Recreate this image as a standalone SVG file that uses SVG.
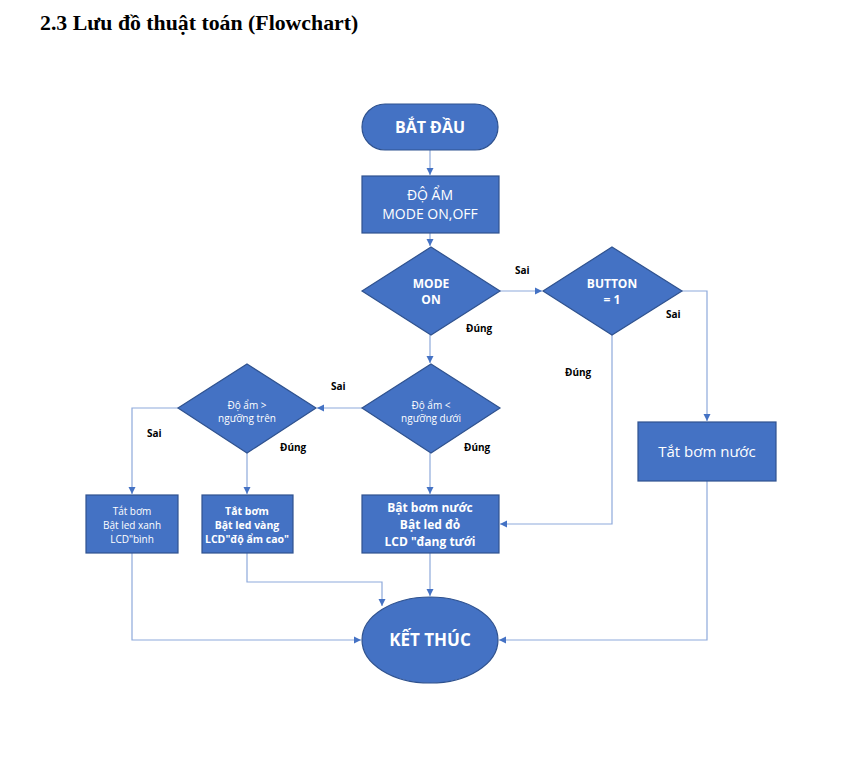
<svg xmlns="http://www.w3.org/2000/svg" width="850" height="766" viewBox="0 0 850 766">
<style>
.s{fill:#4472C4;stroke:#2F528F;stroke-width:1.2}
.t{font-family:"Open Sans","Liberation Sans",sans-serif;fill:#fff;text-anchor:middle}
.b{font-weight:bold}
.l{font-family:"Open Sans","Liberation Sans",sans-serif;font-weight:bold;font-size:10px;fill:#000}
.c{fill:none;stroke:#8EA9DB;stroke-width:1.2}
</style>
<defs>
<marker id="a" markerWidth="8" markerHeight="8" refX="7" refY="4" orient="auto" markerUnits="userSpaceOnUse">
<path d="M0,0.5 L7,4 L0,7.5 Z" fill="#4472C4"/>
</marker>
</defs>
<rect width="850" height="766" fill="#fff"/>
<text x="40" y="30" font-family="Liberation Serif,serif" font-weight="bold" font-size="21.8" fill="#000">2.3 Lưu đồ thuật toán (Flowchart)</text>
<g id="connectors">
<path class="c" d="M430,150 V175" marker-end="url(#a)"/>
<path class="c" d="M430,233 V246" marker-end="url(#a)"/>
<path class="c" d="M500,291 H542" marker-end="url(#a)"/>
<path class="c" d="M682,291 H707 V421" marker-end="url(#a)"/>
<path class="c" d="M612,335 V524 H500" marker-end="url(#a)"/>
<path class="c" d="M430,335 V363" marker-end="url(#a)"/>
<path class="c" d="M362,408 H317" marker-end="url(#a)"/>
<path class="c" d="M178,408 H132 V494" marker-end="url(#a)"/>
<path class="c" d="M247,453 V494" marker-end="url(#a)"/>
<path class="c" d="M430,453 V494" marker-end="url(#a)"/>
<path class="c" d="M132,553 V640 H361" marker-end="url(#a)"/>
<path class="c" d="M247,553 V582 H382 V606" marker-end="url(#a)"/>
<path class="c" d="M430,553 V596" marker-end="url(#a)"/>
<path class="c" d="M707,481 V640 H499" marker-end="url(#a)"/>
</g>
<g id="labels">
<text class="l" x="515" y="274">Sai</text>
<text class="l" x="666" y="318">Sai</text>
<text class="l" x="466" y="332">Đúng</text>
<text class="l" x="565" y="376">Đúng</text>
<text class="l" x="331" y="390">Sai</text>
<text class="l" x="147" y="437">Sai</text>
<text class="l" x="280" y="451">Đúng</text>
<text class="l" x="464" y="451">Đúng</text>
</g>
<g id="start">
<rect class="s" x="362" y="104" width="136" height="46" rx="23"/>
<text class="t b" x="430" y="133" font-size="16">BẮT ĐẦU</text>
</g>
<g id="input">
<rect class="s" x="362" y="176" width="137" height="57"/>
<text class="t" x="430" y="200" font-size="14">ĐỘ ẨM</text>
<text class="t" x="430" y="219" font-size="14">MODE ON,OFF</text>
</g>
<g id="mode">
<polygon class="s" points="431,247 500,291 431,335 362,291"/>
<text class="t b" x="431" y="288" font-size="12">MODE</text>
<text class="t b" x="431" y="304" font-size="12">ON</text>
</g>
<g id="button">
<polygon class="s" points="612,247 682,291 612,335 543,291"/>
<text class="t b" x="612" y="288" font-size="12">BUTTON</text>
<text class="t b" x="612" y="304" font-size="12">= 1</text>
</g>
<g id="low">
<polygon class="s" points="431,364 500,408 431,453 362,408"/>
<text class="t" x="431" y="409" font-size="10">Độ ẩm &lt;</text>
<text class="t" x="431" y="422" font-size="10">ngưỡng dưới</text>
</g>
<g id="high">
<polygon class="s" points="247,364 316,408 247,453 178,408"/>
<text class="t" x="247" y="409" font-size="10">Độ ẩm &gt;</text>
<text class="t" x="247" y="422" font-size="10">ngưỡng trên</text>
</g>
<g id="off">
<rect class="s" x="638" y="422" width="138" height="59"/>
<text class="t" x="707" y="457" font-size="15">Tắt bơm nước</text>
</g>
<g id="green">
<rect class="s" x="86" y="495" width="92" height="58"/>
<text class="t" x="132" y="515" font-size="10">Tắt bơm</text>
<text class="t" x="132" y="529" font-size="10">Bật led xanh</text>
<text class="t" x="132" y="543" font-size="10">LCD"bình</text>
</g>
<g id="yellow">
<rect class="s" x="202" y="495" width="91" height="58"/>
<text class="t b" x="247" y="515" font-size="10.5">Tắt bơm</text>
<text class="t b" x="247" y="529" font-size="10.5">Bật led vàng</text>
<text class="t b" x="247" y="543" font-size="10.5">LCD"độ ẩm cao"</text>
</g>
<g id="pump">
<rect class="s" x="362" y="495" width="137" height="58"/>
<text class="t b" x="430" y="512" font-size="12">Bật bơm nước</text>
<text class="t b" x="430" y="529" font-size="12">Bật led đỏ</text>
<text class="t b" x="430" y="546" font-size="12">LCD "đang tưới</text>
</g>
<g id="end">
<ellipse class="s" cx="430" cy="640" rx="68" ry="43"/>
<text class="t b" x="430" y="646" font-size="17">KẾT THÚC</text>
</g>
</svg>
